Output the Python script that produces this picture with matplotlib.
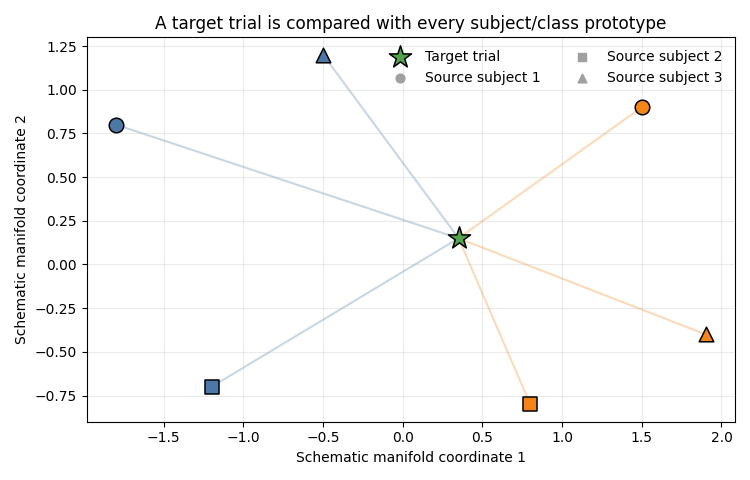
import matplotlib.pyplot as plt
import numpy as np

### Prototype positions (schematic)
target = (0.35, 0.15)
subjects = ['Source subject 1', 'Source subject 2', 'Source subject 3']
markers = ['o', 's', '^']

class_a_x = [-1.8, -1.2, -0.5]
class_a_y = [0.8, -0.7, 1.2]
class_b_x = [1.5, 0.8, 1.9]
class_b_y = [0.9, -0.8, -0.4]

blue = '#4c78a8'
orange = '#f58518'
green = '#54a24b'

fig, ax = plt.subplots(figsize=(7.5, 4.8), dpi=100)

# lines from target to every prototype
for xs, ys, c in [(class_a_x, class_a_y, blue), (class_b_x, class_b_y, orange)]:
    for x, y in zip(xs, ys):
        ax.plot([target[0], x], [target[1], y], color=c, alpha=0.3, lw=1.5, zorder=1)

for xs, ys, c in [(class_a_x, class_a_y, blue), (class_b_x, class_b_y, orange)]:
    for x, y, m in zip(xs, ys, markers):
        ax.scatter(x, y, marker=m, s=110, color=c, edgecolor='k', lw=1.1, zorder=3)

ax.scatter(*target, marker='*', s=280, color=green, edgecolor='k', lw=1.1, zorder=4, label='Target trial')
for lab, m in zip(subjects, markers):
    ax.scatter([], [], marker=m, color='#a0a0a0', s=40, label=lab)

ax.grid(alpha=0.25)
ax.set_title('A target trial is compared with every subject/class prototype', fontsize=12.2)
ax.set_xlabel('Schematic manifold coordinate 1')
ax.set_ylabel('Schematic manifold coordinate 2')
ax.legend(ncol=2, frameon=False, loc='upper right')
fig.tight_layout()
fig.savefig('out.png')
